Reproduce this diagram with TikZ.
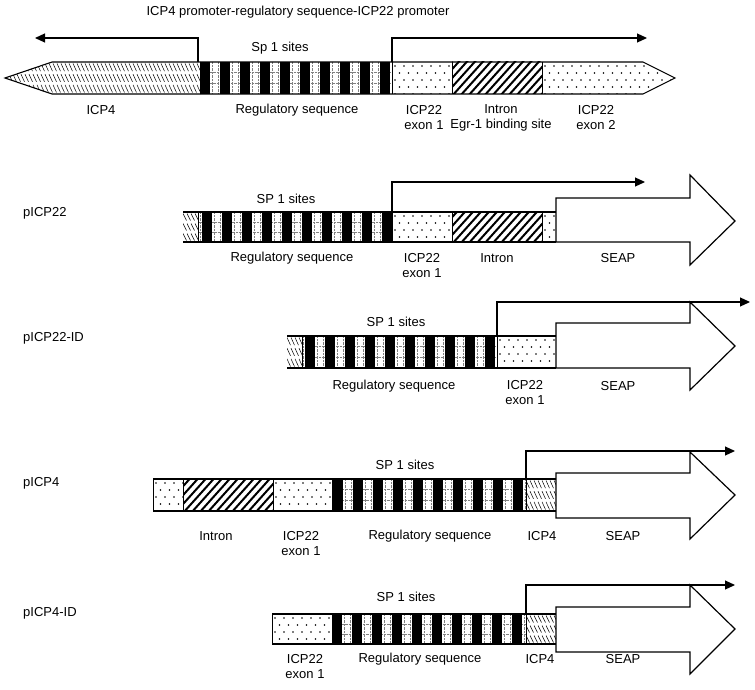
\documentclass[tikz,border=0pt]{standalone}
\usepackage{fontspec}
\setmainfont{Liberation Sans}
\usetikzlibrary{arrows.meta}

\tikzset{
  lbl/.style={font=\fontsize{13}{15}\selectfont, align=center, inner sep=0pt},
  cname/.style={font=\fontsize{13}{15}\selectfont, anchor=west, inner sep=0pt},
  outline/.style={line width=1.1pt},
  sep/.style={line width=0.6pt},
  tss/.style={line width=1.1pt, -{Triangle[length=10pt,width=9pt]}},
  seap/.style={draw, fill=white, line width=1.2pt, line join=miter},
  griddot/.style={gray, densely dotted, line width=0.4pt},
}

% dotted exon fill: clip path, left x, top y
\newcommand{\exondots}[3]{%
  \begin{scope}
    \clip #1;
    \foreach \i in {0,...,16}
      \foreach \j in {0,...,4}
        \fill ({#2+3+9*\i+4.5*mod(\j,2)}, {#3+4+7*\j}) circle (0.8pt);
  \end{scope}}

% intron hatch: clip path, left x, bottom y
\newcommand{\intronhatch}[3]{%
  \begin{scope}
    \clip #1;
    \foreach \i in {-6,...,14}
      \draw[line width=2pt] ({#2+8*\i}, {#3+2}) -- ++(36,-40);
  \end{scope}}

% ICP4 hatch: clip path, left x, top y, height
\newcommand{\icphatch}[4]{%
  \begin{scope}
    \clip #1;
    \foreach \r in {0,1,2}
      \foreach \i in {0,...,50}
        \draw[line width=0.5pt] ({#2+4*\i}, {#3+#4*\r/3+1.5}) -- ++(3.5,{#4/3-3});
  \end{scope}}

% regulatory sequence: x0, x1, first black bar, top y, bottom y
\newcommand{\regseq}[5]{%
  \begin{scope}
    \clip (#1,#4) rectangle (#2,#5);
    \fill[white] (#1,#4) rectangle (#2,#5);
    \draw[griddot] (#1,{#4+(#5-#4)/3}) -- (#2,{#4+(#5-#4)/3})
                   (#1,{#4+2*(#5-#4)/3}) -- (#2,{#4+2*(#5-#4)/3});
    \foreach \i in {-1,...,9} {
      \draw[griddot] ({#3+20*\i+12}, #4) -- ++(0,{#5-#4});
      \draw[griddot] ({#3+20*\i+18}, #4) -- ++(0,{#5-#4});
    }
    \foreach \i in {0,...,9}
      \fill ({#3+20*\i}, #4) rectangle ++(10,{#5-#4});
  \end{scope}}

\begin{document}
\begin{tikzpicture}[x=1pt,y=-1pt]
  \useasboundingbox (0,0) rectangle (755,690);

  % ICP4 promoter-regulatory sequence-ICP22 promoter
  \node[lbl] (title) at (298,12) {ICP4 promoter-regulatory sequence-ICP22 promoter};
  \icphatch{(5,78) -- (52,62) -- (200,62) -- (200,94) -- (52,94) -- cycle}{5}{62}{32}
  \regseq{200}{392}{200}{62}{94}
  \exondots{(392,62) rectangle (452,94)}{392}{62}
  \intronhatch{(452,62) rectangle (542,94)}{452}{94}
  \exondots{(542,62) -- (643,62) -- (675,78) -- (643,94) -- (542,94) -- cycle}{542}{62}
  \draw[outline] (200,62) -- (52,62) -- (5,78) -- (52,94) -- (200,94);
  \draw[outline] (200,62) -- (643,62) -- (675,78) -- (643,94) -- (200,94);
  \draw[sep] (200,62) -- (200,94) (392,62) -- (392,94) (452,62) -- (452,94) (542,62) -- (542,94);

  \coordinate (s4) at (198,62);
  \coordinate (e4) at (35,38);
  \coordinate (s22) at (392,62);
  \coordinate (e22) at (647,38);
  \draw[tss] (s4) |- (e4);
  \draw[tss] (s22) |- (e22);

  \node[lbl] (sp0) at (280,48) {Sp 1 sites};
  \node[lbl] (icp0) at (101,110) {ICP4};
  \node[lbl] (reg0) at (297,110) {Regulatory sequence};
  \node[lbl] (ex0) at (424,117.5) {ICP22\\exon 1};
  \node[lbl] (in0) at (501,117.5) {Intron\\Egr-1 binding site};
  \node[lbl] (ex2) at (596,117.5) {ICP22\\exon 2};

  % pICP22
  \node[cname] (p1) at (23,213) {pICP22};
  \icphatch{(183,212) rectangle (198,242)}{183}{212}{30}
  \regseq{198}{392}{202}{212}{242}
  \exondots{(392,212) rectangle (452,242)}{392}{212}
  \intronhatch{(452,212) rectangle (542,242)}{452}{242}
  \exondots{(542,212) rectangle (556,242)}{542}{212}
  \draw[outline] (183,212) -- (556,212) (183,242) -- (556,242);
  \draw[sep] (198,212) -- (198,242) (392,212) -- (392,242) (452,212) -- (452,242) (542,212) -- (542,242);
  \draw[seap] (556,198) -- (690,198) -- (690,175) -- (735,221) -- (690,265) -- (690,242) -- (556,242) -- cycle;
  \coordinate (s1) at (392,212);
  \coordinate (e1) at (645,182);
  \draw[tss] (s1) |- (e1);
  \node[lbl] (sp1) at (286,199) {SP 1 sites};
  \node[lbl] (reg1) at (292,258) {Regulatory sequence};
  \node[lbl] (ex1) at (422,265.5) {ICP22\\exon 1};
  \node[lbl] (in1) at (497,258) {Intron};
  \node[lbl] (seap1) at (618,258) {SEAP};

  % pICP22-ID
  \node[cname] (p2) at (23,338) {pICP22-ID};
  \icphatch{(287,336) rectangle (302,368)}{287}{336}{32}
  \regseq{302}{497}{305}{336}{368}
  \exondots{(497,336) rectangle (556,368)}{497}{336}
  \draw[outline] (287,336) -- (556,336) (287,368) -- (556,368);
  \draw[sep] (302,336) -- (302,368) (497,336) -- (497,368);
  \draw[seap] (556,323) -- (690,323) -- (690,302) -- (735,346) -- (690,390) -- (690,368) -- (556,368) -- cycle;
  \coordinate (s2) at (497,336);
  \coordinate (e2) at (750,302);
  \draw[tss] (s2) |- (e2);
  \node[lbl] (sp2) at (396,322) {SP 1 sites};
  \node[lbl] (reg2) at (394,386) {Regulatory sequence};
  \node[lbl] (ex2b) at (525,393) {ICP22\\exon 1};
  \node[lbl] (seap2) at (618,386) {SEAP};

  % pICP4
  \node[cname] (p3) at (23,483) {pICP4};
  \exondots{(153,479) rectangle (183,511)}{153}{479}
  \intronhatch{(183,479) rectangle (273,511)}{183}{511}
  \exondots{(273,479) rectangle (332,511)}{273}{479}
  \regseq{332}{526}{333}{479}{511}
  \icphatch{(526,479) rectangle (556,511)}{526}{479}{32}
  \draw[outline] (153,479) -- (556,479) (153,511) -- (556,511);
  \draw[sep] (153,479) -- (153,511) (183,479) -- (183,511) (273,479) -- (273,511) (332,479) -- (332,511) (526,479) -- (526,511);
  \draw[seap] (556,473) -- (690,473) -- (690,452) -- (735,495) -- (690,539) -- (690,518) -- (556,518) -- cycle;
  \coordinate (s3) at (526,479);
  \coordinate (e3) at (735,451);
  \draw[tss] (s3) |- (e3);
  \node[lbl] (sp3) at (405,465) {SP 1 sites};
  \node[lbl] (in3) at (216,536) {Intron};
  \node[lbl] (ex3) at (301,543.5) {ICP22\\exon 1};
  \node[lbl] (reg3) at (430,536) {Regulatory sequence};
  \node[lbl] (icp3) at (542,536) {ICP4};
  \node[lbl] (seap3) at (623,536) {SEAP};

  % pICP4-ID
  \node[cname] (p4) at (23,613) {pICP4-ID};
  \exondots{(272,614) rectangle (332,644)}{272}{614}
  \regseq{332}{526}{332}{614}{644}
  \icphatch{(526,614) rectangle (556,644)}{526}{614}{30}
  \draw[outline] (272,614) -- (556,614) (272,644) -- (556,644);
  \draw[sep] (272,614) -- (272,644) (332,614) -- (332,644) (526,614) -- (526,644);
  \draw[seap] (556,607) -- (690,607) -- (690,585) -- (735,629) -- (690,674) -- (690,652) -- (556,652) -- cycle;
  \coordinate (s4b) at (526,614);
  \coordinate (e4b) at (735,585);
  \draw[tss] (s4b) |- (e4b);
  \node[lbl] (sp4) at (406,597) {SP 1 sites};
  \node[lbl] (ex4) at (305,666.5) {ICP22\\exon 1};
  \node[lbl] (reg4) at (420,659) {Regulatory sequence};
  \node[lbl] (icp4) at (540,659) {ICP4};
  \node[lbl] (seap4) at (623,659) {SEAP};
\end{tikzpicture}
\end{document}
